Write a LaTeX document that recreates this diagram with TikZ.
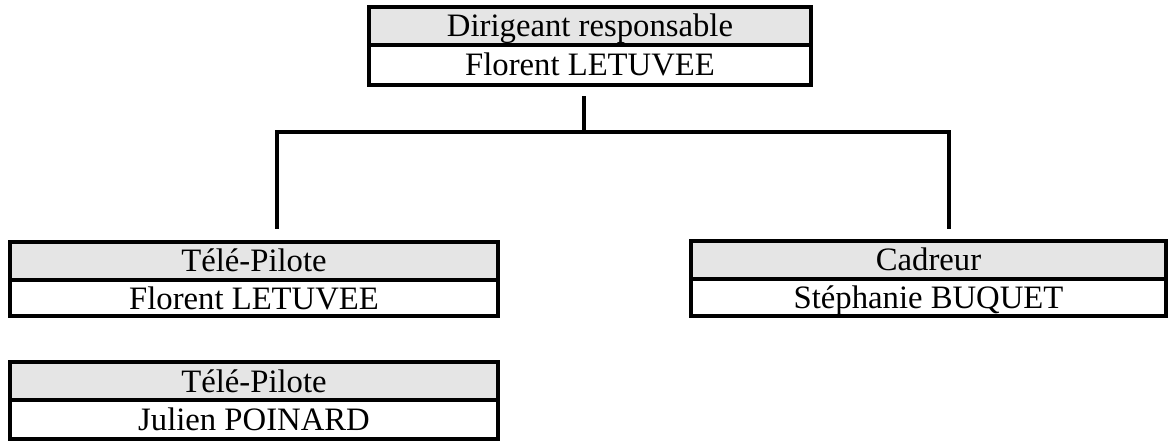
\documentclass[tikz,border=0pt]{standalone}
\usepackage{fontspec}
\setmainfont{Liberation Serif}
\definecolor{hdr}{HTML}{E5E5E5}
\tikzset{
  cell/.style={draw=black, line width=4pt, rectangle, inner sep=0pt, anchor=center,
    text height=28pt, text depth=6pt,
    font=\fontsize{32.7}{36}\selectfont},
  hdrcell/.style={cell, fill=hdr},
  namecell/.style={cell, fill=white},
  link/.style={draw=black, line width=4pt, line cap=rect, line join=miter}
}
\begin{document}
\begin{tikzpicture}[x=1pt, y=-1pt]
\useasboundingbox (0,0) rectangle (1174,443);
% top box
\node[hdrcell, minimum width=442pt, minimum height=38pt] (t0) at (590,26) {Dirigeant responsable};
\node[namecell, minimum width=442pt, minimum height=40pt] (n0) at (590,65) {Florent LETUVEE};
% left box 1
\node[hdrcell, minimum width=488pt, minimum height=38pt] (t1) at (254,261) {Télé-Pilote};
\node[namecell, minimum width=488pt, minimum height=36pt] (n1) at (254,298) {Florent LETUVEE};
% right box
\node[hdrcell, minimum width=475pt, minimum height=38pt] (t2) at (928.5,260) {Cadreur};
\node[namecell, minimum width=475pt, minimum height=37pt] (n2) at (928.5,297.5) {Stéphanie BUQUET};
% left box 2
\node[hdrcell, minimum width=488pt, minimum height=38pt] (t3) at (254,381) {Télé-Pilote};
\node[namecell, minimum width=488pt, minimum height=39pt] (n3) at (254,419.5) {Julien POINARD};
% connectors
\coordinate (s0) at (584,98);
\coordinate (j) at (584,132);
\coordinate (cL) at (277,227);
\coordinate (cR) at (949,227);
\draw[link] (s0) -- (j);
\draw[link] (cL) |- (j) -| (cR);
\end{tikzpicture}
\end{document}
